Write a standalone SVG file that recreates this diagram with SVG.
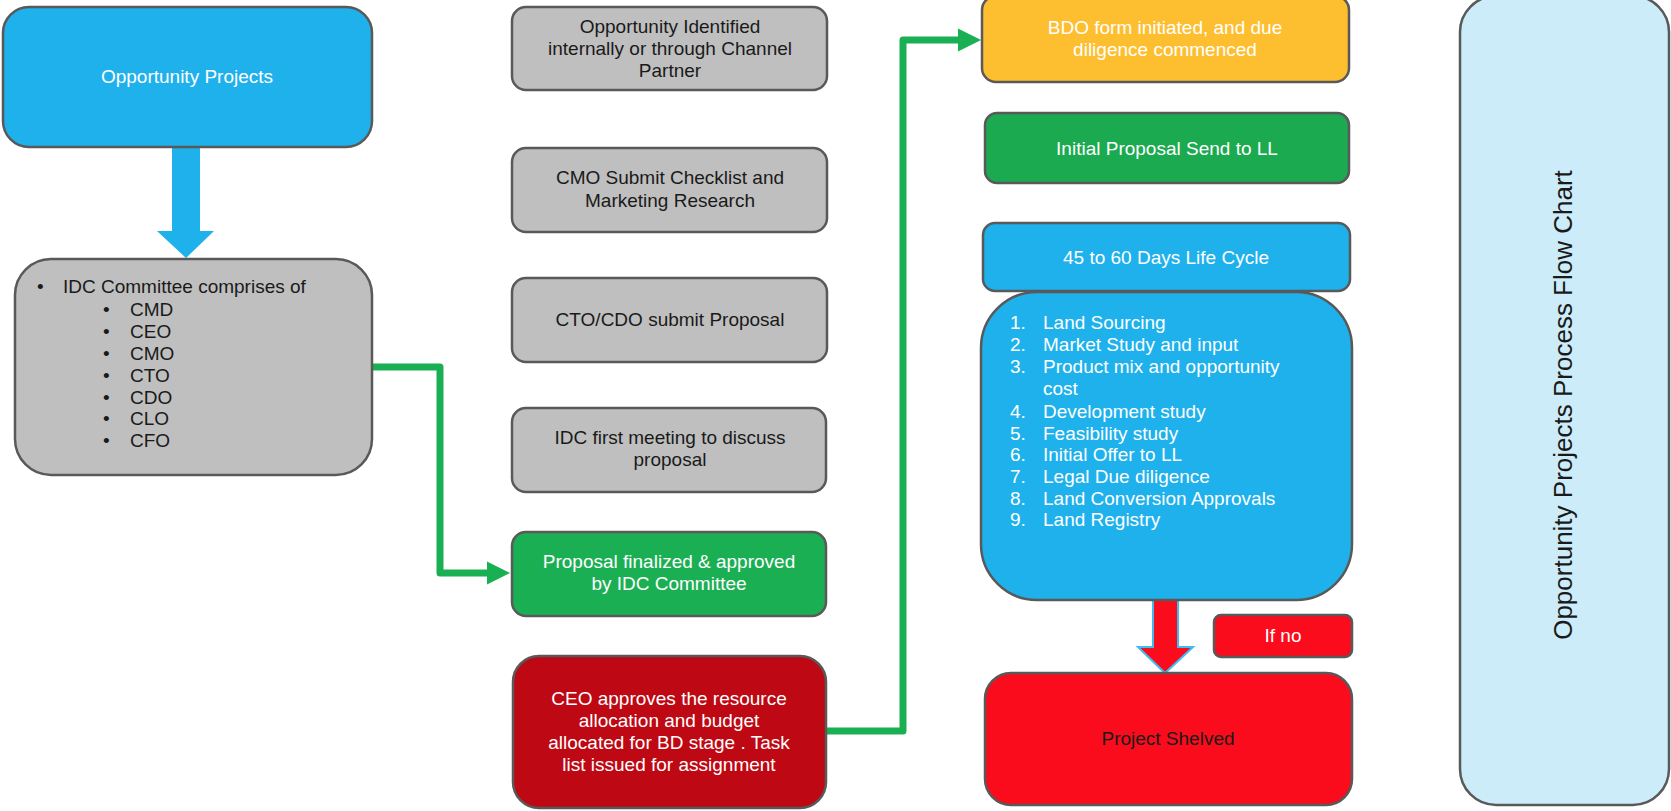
<svg xmlns="http://www.w3.org/2000/svg" width="1671" height="811" viewBox="0 0 1671 811">
<defs>
<style>
.box{stroke:#595959;stroke-width:2.5}
.t{font-family:"Liberation Sans",Arial,sans-serif;font-size:19px;text-anchor:middle}
.w{fill:#ffffff}
.k{fill:#1a1a1a}
.l{font-family:"Liberation Sans",Arial,sans-serif;font-size:19px}
.conn{fill:none;stroke:#1BAF54;stroke-width:7;stroke-linejoin:round}
</style>
<marker id="gh" viewBox="0 0 10 10" refX="5.2" refY="5" markerWidth="3.6" markerHeight="3.3" orient="auto" markerUnits="strokeWidth">
<path d="M0,0 L10,5 L0,10 Z" fill="#1BAF54"/>
</marker>
</defs>
<rect width="1671" height="811" fill="#ffffff"/>

<g id="connectors">
<polygon points="172,147 200,147 200,231 214,231 186,258 157,231 172,231" fill="#1EB1EC"/>
<path class="conn" d="M372,367 H440 V573 H499" marker-end="url(#gh)"/>
<path class="conn" d="M826,731 H903 V40 H970" marker-end="url(#gh)"/>
<polygon points="1153,600 1178,600 1178,647 1193,647 1165,673 1138,647 1153,647" fill="#FA0C1C" stroke="#3FBDEF" stroke-width="2"/>
</g>

<g id="opportunity-projects">
<rect class="box" x="3" y="7" width="369" height="140" rx="26" fill="#1EB1EC"/>
<text class="t w" x="187" y="83">Opportunity Projects</text>
</g>

<g id="idc-committee">
<rect class="box" x="15" y="259" width="357" height="216" rx="36" fill="#BFBFBF"/>
<g class="l k">
<text x="37" y="293">•</text><text x="63" y="293">IDC Committee comprises of</text>
<text x="103" y="316">•</text><text x="130" y="316">CMD</text>
<text x="103" y="338">•</text><text x="130" y="338">CEO</text>
<text x="103" y="360">•</text><text x="130" y="360">CMO</text>
<text x="103" y="382">•</text><text x="130" y="382">CTO</text>
<text x="103" y="404">•</text><text x="130" y="404">CDO</text>
<text x="103" y="425">•</text><text x="130" y="425">CLO</text>
<text x="103" y="447">•</text><text x="130" y="447">CFO</text>
</g>
</g>

<g id="opportunity-identified">
<rect class="box" x="512" y="7" width="315" height="83" rx="14" fill="#BFBFBF"/>
<text class="t k" x="670" y="33">Opportunity Identified</text>
<text class="t k" x="670" y="55">internally or through Channel</text>
<text class="t k" x="670" y="77">Partner</text>
</g>

<g id="cmo-checklist">
<rect class="box" x="512" y="148" width="315" height="84" rx="14" fill="#BFBFBF"/>
<text class="t k" x="670" y="184">CMO Submit Checklist and</text>
<text class="t k" x="670" y="207">Marketing Research</text>
</g>

<g id="cto-cdo">
<rect class="box" x="512" y="278" width="315" height="84" rx="14" fill="#BFBFBF"/>
<text class="t k" x="670" y="326">CTO/CDO submit Proposal</text>
</g>

<g id="idc-meeting">
<rect class="box" x="512" y="408" width="314" height="84" rx="14" fill="#BFBFBF"/>
<text class="t k" x="670" y="444">IDC first meeting to discuss</text>
<text class="t k" x="670" y="466">proposal</text>
</g>

<g id="proposal-finalized">
<rect class="box" x="512" y="532" width="314" height="84" rx="14" fill="#1BAF54"/>
<text class="t w" x="669" y="568">Proposal finalized &amp; approved</text>
<text class="t w" x="669" y="590">by IDC Committee</text>
</g>

<g id="ceo-approves">
<rect class="box" x="513" y="656" width="313" height="152" rx="26" fill="#BE0813"/>
<text class="t w" x="669" y="705">CEO approves the resource</text>
<text class="t w" x="669" y="727">allocation and budget</text>
<text class="t w" x="669" y="749">allocated for BD stage . Task</text>
<text class="t w" x="669" y="771">list issued for assignment</text>
</g>

<g id="bdo-form">
<rect class="box" x="982" y="-4" width="367" height="86" rx="14" fill="#FDBE2F"/>
<text class="t w" x="1165" y="34">BDO form initiated, and due</text>
<text class="t w" x="1165" y="56">diligence commenced</text>
</g>

<g id="initial-proposal">
<rect class="box" x="985" y="113" width="364" height="70" rx="12" fill="#1BAA50"/>
<text class="t w" x="1167" y="155">Initial Proposal Send to LL</text>
</g>

<g id="life-cycle">
<rect class="box" x="983" y="223" width="367" height="68" rx="12" fill="#1EB1EC"/>
<text class="t w" x="1166" y="264">45 to 60 Days Life Cycle</text>
</g>

<g id="steps">
<rect class="box" x="981" y="292" width="371" height="308" rx="56" fill="#1EB1EC"/>
<g class="l w">
<text x="1010" y="329">1.</text><text x="1043" y="329">Land Sourcing</text>
<text x="1010" y="351">2.</text><text x="1043" y="351">Market Study and input</text>
<text x="1010" y="373">3.</text><text x="1043" y="373">Product mix and opportunity</text>
<text x="1043" y="395">cost</text>
<text x="1010" y="418">4.</text><text x="1043" y="418">Development study</text>
<text x="1010" y="440">5.</text><text x="1043" y="440">Feasibility study</text>
<text x="1010" y="461">6.</text><text x="1043" y="461">Initial Offer to LL</text>
<text x="1010" y="483">7.</text><text x="1043" y="483">Legal Due diligence</text>
<text x="1010" y="505">8.</text><text x="1043" y="505">Land Conversion Approvals</text>
<text x="1010" y="526">9.</text><text x="1043" y="526">Land Registry</text>
</g>
</g>

<g id="if-no">
<rect class="box" x="1214" y="615" width="138" height="42" rx="7" fill="#FA0C1C"/>
<text class="t w" x="1283" y="642">If no</text>
</g>

<g id="project-shelved">
<rect class="box" x="985" y="673" width="367" height="132" rx="26" fill="#FA0C1C"/>
<text class="t k" x="1168" y="745">Project Shelved</text>
</g>

<g id="title">
<rect class="box" x="1460" y="-4" width="209" height="809" rx="36" fill="#CCECF9"/>
<text class="k" transform="translate(1572,405) rotate(-90)" text-anchor="middle" font-family="Liberation Sans, Arial, sans-serif" font-size="26">Opportunity Projects Process Flow Chart</text>
</g>
</svg>
